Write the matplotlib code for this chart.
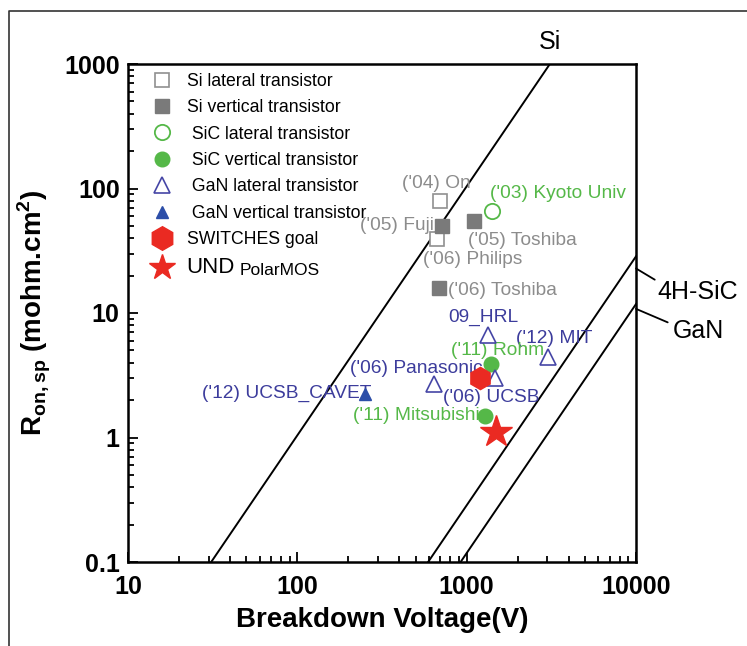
import matplotlib.pyplot as plt
from matplotlib.lines import Line2D
from matplotlib.ticker import NullFormatter

plt.rcParams['font.family'] = 'Liberation Sans'
plt.rcParams['mathtext.fontset'] = 'custom'
plt.rcParams['mathtext.rm'] = 'Liberation Sans'
plt.rcParams['mathtext.bf'] = 'Liberation Sans:bold'

# Breakdown voltage (V) and specific on-resistance (mohm.cm^2)
si_lat_v = [693, 671]
si_lat_r = [80, 39]
si_vert_v = [712, 1099, 687]
si_vert_r = [49.7, 54.7, 15.8]
sic_lat_v = [1419]
sic_lat_r = [65.8]
sic_vert_v = [1397, 1277]
sic_vert_r = [3.9, 1.48]
gan_lat_v = [1337, 3020, 1462, 641]
gan_lat_r = [6.6, 4.4, 3.0, 2.7]
gan_vert_v = [252]
gan_vert_r = [2.25]
goal_v = [1200]
goal_r = [3.0]
und_v = [1500]
und_r = [1.1]

# material limit lines (end points)
si_line_v = [31, 3100]
si_line_r = [0.1, 1000]
sic_line_v = [592, 10000]
sic_line_r = [0.1, 28.5]
gan_line_v = [921, 10000]
gan_line_r = [0.1, 11.8]

GRAY_TXT = '#8c8c8c'
GREEN = '#55b848'
BLUE = '#3c3c9c'
RED = '#ea2a22'

# point labels: text, V, R, colour
labels = [
    ("('04) On", 413, 110, GRAY_TXT),
    ("('05) Fuji", 236, 50, GRAY_TXT),
    ("('05) Toshiba", 1019, 38, GRAY_TXT),
    ("('06) Philips", 552, 27, GRAY_TXT),
    ("('06) Toshiba", 776, 15.1, GRAY_TXT),
    ("('03) Kyoto Univ", 1368, 92, GREEN),
    ("09_HRL", 776, 9.2, BLUE),
    ("('12) MIT", 1963, 6.2, BLUE),
    ("('11) Rohm", 813, 5.0, GREEN),
    ("('06) Panasonic", 204, 3.6, BLUE),
    ("('12) UCSB_CAVET", 27.2, 2.25, BLUE),
    ("('06) UCSB", 725, 2.08, BLUE),
    ("('11) Mitsubishi", 213, 1.51, GREEN),
]

fig = plt.figure(figsize=(7.47, 6.46), dpi=100)
ax = fig.add_axes([128 / 747, 1 - 562 / 646, 508 / 747, 498 / 646])
ax.set_xscale('log')
ax.set_yscale('log')
ax.set_xlim(10, 10000)
ax.set_ylim(0.1, 1000)

for lv, lr in [(si_line_v, si_line_r), (sic_line_v, sic_line_r), (gan_line_v, gan_line_r)]:
    ax.plot(lv, lr, color='black', lw=1.4, zorder=1)

h1, = ax.plot(si_lat_v, si_lat_r, 's', ms=10, mfc='white', mec='#909090', mew=1.2,
              ls='none', zorder=3, label='Si lateral transistor')
h2, = ax.plot(si_vert_v, si_vert_r, 's', ms=10, color='#7a7a7a',
              ls='none', zorder=3, label='Si vertical transistor')
h3, = ax.plot(sic_lat_v, sic_lat_r, 'o', ms=11, mfc='white', mec=GREEN, mew=1.3,
              ls='none', zorder=3, label=' SiC lateral transistor')
h4, = ax.plot(sic_vert_v, sic_vert_r, 'o', ms=10.5, color=GREEN,
              ls='none', zorder=3, label=' SiC vertical transistor')
h5, = ax.plot(gan_lat_v, gan_lat_r, '^', ms=12, mfc='white', mec='#4646a6', mew=1.2,
              ls='none', zorder=3, label=' GaN lateral transistor')
h6, = ax.plot(gan_vert_v, gan_vert_r, '^', ms=9, color='#2c4ea8',
              ls='none', zorder=3, label=' GaN vertical transistor')
h7, = ax.plot(goal_v, goal_r, 'h', ms=16, color=RED,
              ls='none', zorder=3, label='SWITCHES goal')
h8, = ax.plot(und_v, und_r, '*', ms=24, color=RED,
              ls='none', zorder=4, label='UND')

for txt, v, r, c in labels:
    ax.text(v, r, txt, color=c, fontsize=13.8, ha='left', va='center', zorder=2)

# limit line names
ax.text(3100, 1500, 'Si', fontsize=18, ha='center', va='center', clip_on=False)
ax.annotate('4H-SiC', xy=(10000, 22.8), xytext=(13400, 14.7), fontsize=18,
            ha='left', va='center', annotation_clip=False,
            arrowprops=dict(arrowstyle='-', lw=1.3, color='black',
                            shrinkA=0, shrinkB=0, relpos=(0.05, 0.85)))
ax.annotate('GaN', xy=(10000, 10.8), xytext=(16500, 7.2), fontsize=18,
            ha='left', va='center', annotation_clip=False,
            arrowprops=dict(arrowstyle='-', lw=1.3, color='black',
                            shrinkA=0, shrinkB=0, relpos=(-0.1, 0.85)))

leg = ax.legend(handles=[h1, h2, h3, h4, h5, h6, h7, h8], loc='upper left',
                bbox_to_anchor=(0.046, 0.982), frameon=False, fontsize=12.7,
                borderpad=0, borderaxespad=0, handlelength=1.2,
                handletextpad=0.8, labelspacing=0.53)
lh = leg.legend_handles
lh[5].set_markersize(8)
lh[6].set_markersize(17)
lh[7].set_markersize(19)
und_txt = leg.get_texts()[-1]
und_txt.set_fontsize(16)
ax.annotate('PolarMOS', xy=(1, 0), xycoords=und_txt, xytext=(3, 0),
            textcoords='offset points', fontsize=12.5, va='bottom', zorder=6)

ax.set_xticks([10, 100, 1000, 10000], labels=['10', '100', '1000', '10000'],
              fontsize=18, fontweight='bold')
ax.set_yticks([0.1, 1, 10, 100, 1000], labels=['0.1', '1', '10', '100', '1000'],
              fontsize=18, fontweight='bold')
ax.xaxis.set_minor_formatter(NullFormatter())
ax.yaxis.set_minor_formatter(NullFormatter())
ax.tick_params(which='both', direction='in', top=False, right=False, width=1.3)
ax.tick_params(which='major', length=7, pad=6)
ax.tick_params(axis='x', which='major', pad=9)
ax.tick_params(which='minor', length=4)
for s in ax.spines.values():
    s.set_linewidth(1.8)

ax.set_xlabel('Breakdown Voltage(V)', fontsize=20, fontweight='bold', labelpad=6)
ax.set_ylabel(r'R$_{\mathbf{on,sp}}$ (mohm.cm$^{\mathbf{2}}$)', fontsize=20,
              fontweight='bold', labelpad=8)

# outer frame
fig.add_artist(Line2D([9 / 747, 9 / 747, 1], [0, 1 - 11 / 646, 1 - 11 / 646],
                      transform=fig.transFigure, color='#333333', lw=1.2))

fig.canvas.draw()
fig.savefig('out.png', dpi=100)
